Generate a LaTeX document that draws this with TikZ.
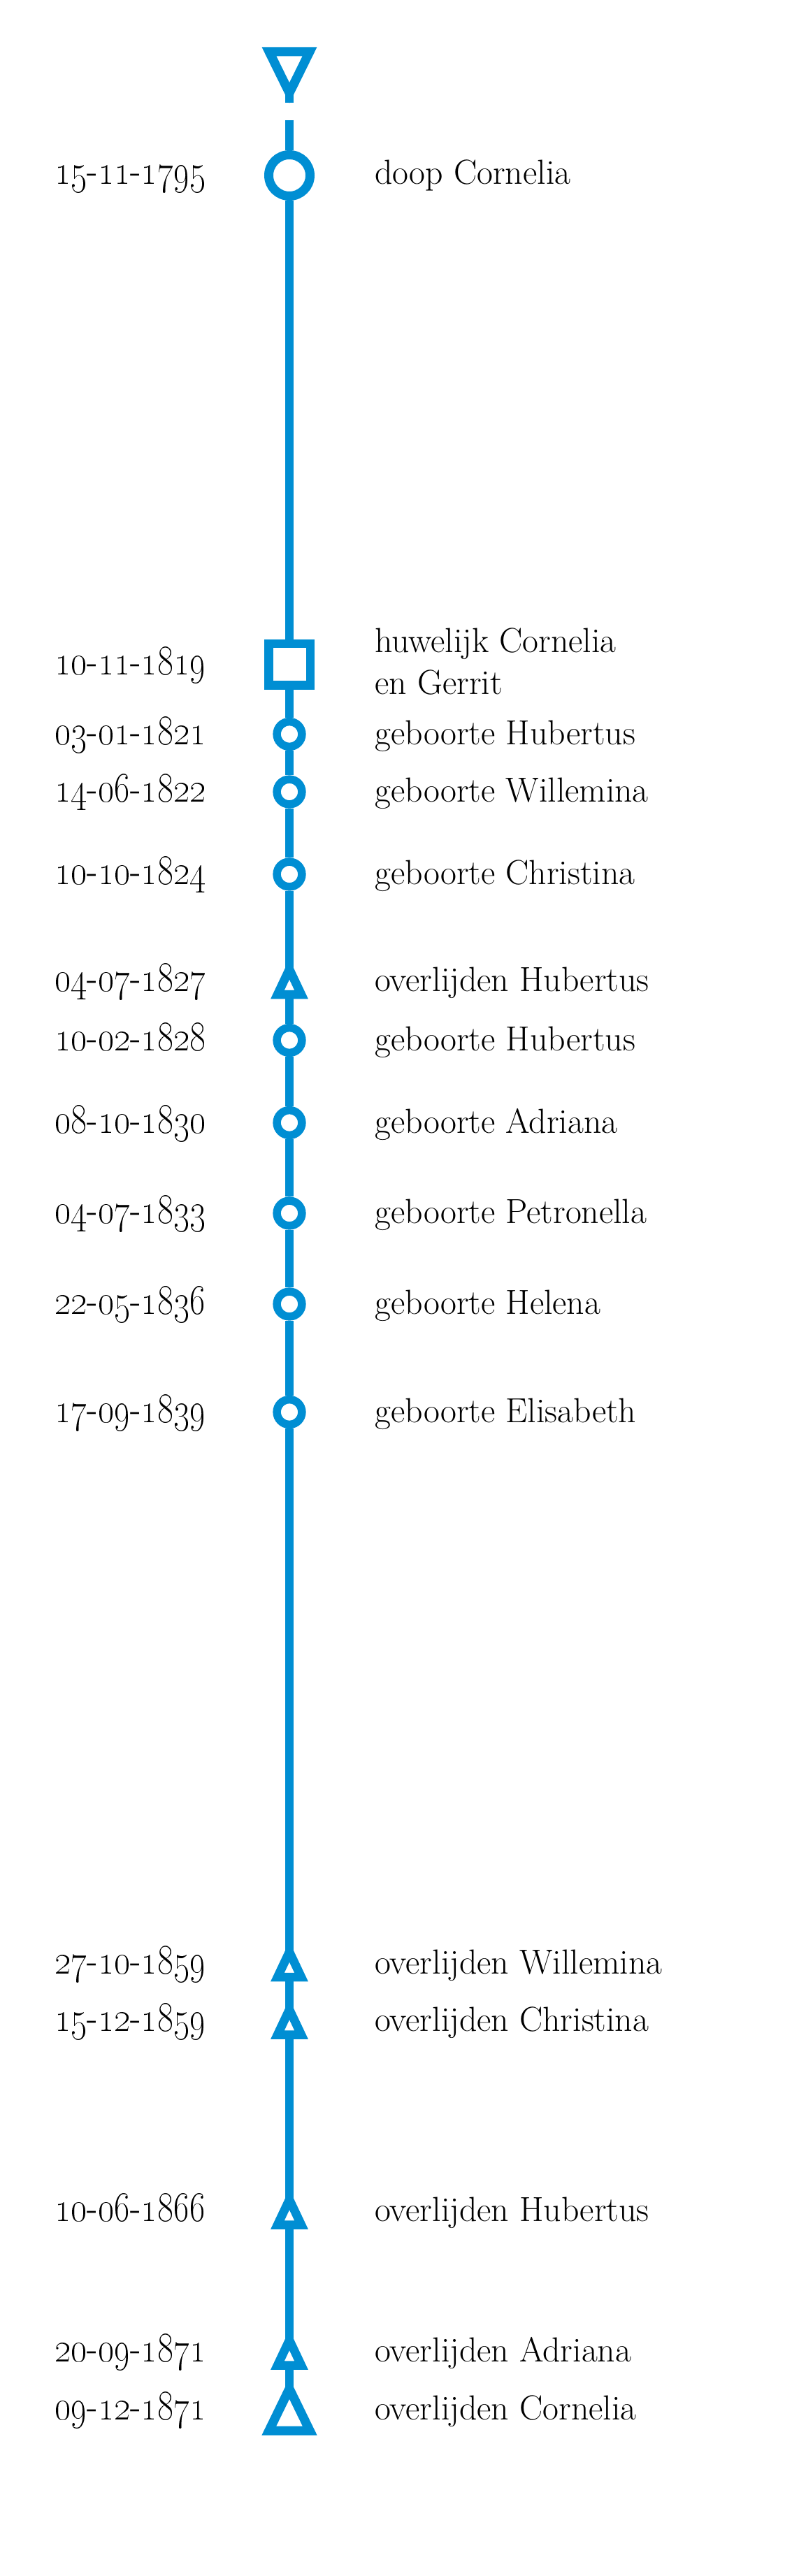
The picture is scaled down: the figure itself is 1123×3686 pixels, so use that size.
\documentclass[tikz,border=0pt]{standalone}
\definecolor{tlblue}{RGB}{0,142,211}
\newcommand{\dmy}[3]{\scalebox{1.02}[1.22]{\oldstylenums{#1}-\oldstylenums{#2}-\oldstylenums{#3}}}
\newcommand{\tlfont}{\fontsize{24.88}{30}\selectfont}
\tikzset{
  tlline/.style={draw=tlblue, line width=6pt},
  bigring/.style={circle, draw=tlblue, fill=white, line width=6.5pt, minimum size=29.5pt, inner sep=0pt},
  ring/.style={circle, draw=tlblue, fill=white, line width=5.75pt, minimum size=17.9pt, inner sep=0pt},
  sqbox/.style={rectangle, draw=tlblue, fill=white, line width=6.25pt, minimum size=29.75pt, inner sep=0pt},
  tri/.style={draw=tlblue, fill=white, line width=6.25pt, line join=miter},
  datelbl/.style={anchor=base east, inner sep=0pt, font=\tlfont},
  evlbl/.style={anchor=base west, inner sep=0pt, font=\tlfont},
  smtri/.pic={\draw[tri] (-17,0) -- (17,0) -- (0,-36) -- cycle;},
  bigtri/.pic={\draw[tri, line width=6.5pt] (-29.2,0) -- (29.2,0) -- (0,-60) -- cycle;},
  toptri/.pic={\draw[tri, line width=6.5pt] (-29,0) -- (29,0) -- (0,59) -- cycle;}
}
\begin{document}
\begin{tikzpicture}[x=0.5pt,y=-0.5pt]
\useasboundingbox (0,0) rectangle (1123,3686);
\fill[white] (0,0) rectangle (1123,3686);

% coordinates on the line
\coordinate (topbase) at (414,74);
\coordinate (topapex) at (414,133);
\coordinate (stubend) at (414,147);
\coordinate (start) at (414,172);

% markers (nodes)
\node[bigring] (e1795) at (414,251) {};
\node[sqbox] (e1819) at (414,950.5) {};
\node[ring] (e1821) at (414,1050.5) {};
\node[ring] (e1822) at (414,1133) {};
\node[ring] (e1824) at (414,1251) {};
\coordinate (e1827) at (414,1423);
\node[ring] (e1828) at (414,1488.5) {};
\node[ring] (e1830) at (414,1606.5) {};
\node[ring] (e1833) at (414,1736) {};
\node[ring] (e1836) at (414,1866) {};
\node[ring] (e1839) at (414,2020.5) {};
\coordinate (e1859a) at (414,2829);
\coordinate (e1859b) at (414,2911.5);
\coordinate (e1866) at (414,3183.5);
\coordinate (e1871a) at (414,3384.5);
\coordinate (e1871b) at (414,3478);

% the time line
\draw[tlline] (topapex) -- (stubend);
\draw[tlline] (start) -- (e1795) -- (e1819) -- (e1821) -- (e1822) -- (e1824)
  -- (e1827) -- (e1828) -- (e1830) -- (e1833) -- (e1836) -- (e1839)
  -- (e1859a) -- (e1859b) -- (e1866) -- (e1871a) -- (e1871b);

% triangle markers
\pic at (topbase) {toptri};
\pic at (e1827) {smtri};
\pic at (e1859a) {smtri};
\pic at (e1859b) {smtri};
\pic at (e1866) {smtri};
\pic at (e1871a) {smtri};
\pic at (e1871b) {bigtri};

% labels
\node[datelbl] (d1795) at (295,264) {\dmy{15}{11}{1795}};
\node[evlbl] (l1795) at (536,264) {doop Cornelia};

\node[datelbl] (d1819) at (295,965) {\dmy{10}{11}{1819}};
\node[evlbl] (l1819a) at (536,933) {huwelijk Cornelia};
\node[evlbl] (l1819b) at (536,993) {en Gerrit};

\node[datelbl] (d1821) at (295,1065) {\dmy{03}{01}{1821}};
\node[evlbl] (l1821) at (536,1065) {geboorte Hubertus};

\node[datelbl] (d1822) at (295,1147.5) {\dmy{14}{06}{1822}};
\node[evlbl] (l1822) at (536,1147.5) {geboorte Willemina};

\node[datelbl] (d1824) at (295,1265.5) {\dmy{10}{10}{1824}};
\node[evlbl] (l1824) at (536,1265.5) {geboorte Christina};

\node[datelbl] (d1827) at (295,1418) {\dmy{04}{07}{1827}};
\node[evlbl] (l1827) at (536,1418) {overlijden Hubertus};

\node[datelbl] (d1828) at (295,1503) {\dmy{10}{02}{1828}};
\node[evlbl] (l1828) at (536,1503) {geboorte Hubertus};

\node[datelbl] (d1830) at (295,1621) {\dmy{08}{10}{1830}};
\node[evlbl] (l1830) at (536,1621) {geboorte Adriana};

\node[datelbl] (d1833) at (295,1750.5) {\dmy{04}{07}{1833}};
\node[evlbl] (l1833) at (536,1750.5) {geboorte Petronella};

\node[datelbl] (d1836) at (295,1880.5) {\dmy{22}{05}{1836}};
\node[evlbl] (l1836) at (536,1880.5) {geboorte Helena};

\node[datelbl] (d1839) at (295,2035) {\dmy{17}{09}{1839}};
\node[evlbl] (l1839) at (536,2035) {geboorte Elisabeth};

\node[datelbl] (d1859a) at (295,2824) {\dmy{27}{10}{1859}};
\node[evlbl] (l1859a) at (536,2824) {overlijden Willemina};

\node[datelbl] (d1859b) at (295,2906.5) {\dmy{15}{12}{1859}};
\node[evlbl] (l1859b) at (536,2906.5) {overlijden Christina};

\node[datelbl] (d1866) at (295,3178.5) {\dmy{10}{06}{1866}};
\node[evlbl] (l1866) at (536,3178.5) {overlijden Hubertus};

\node[datelbl] (d1871a) at (295,3379.5) {\dmy{20}{09}{1871}};
\node[evlbl] (l1871a) at (536,3379.5) {overlijden Adriana};

\node[datelbl] (d1871b) at (295,3462) {\dmy{09}{12}{1871}};
\node[evlbl] (l1871b) at (536,3462) {overlijden Cornelia};
\end{tikzpicture}
\end{document}
